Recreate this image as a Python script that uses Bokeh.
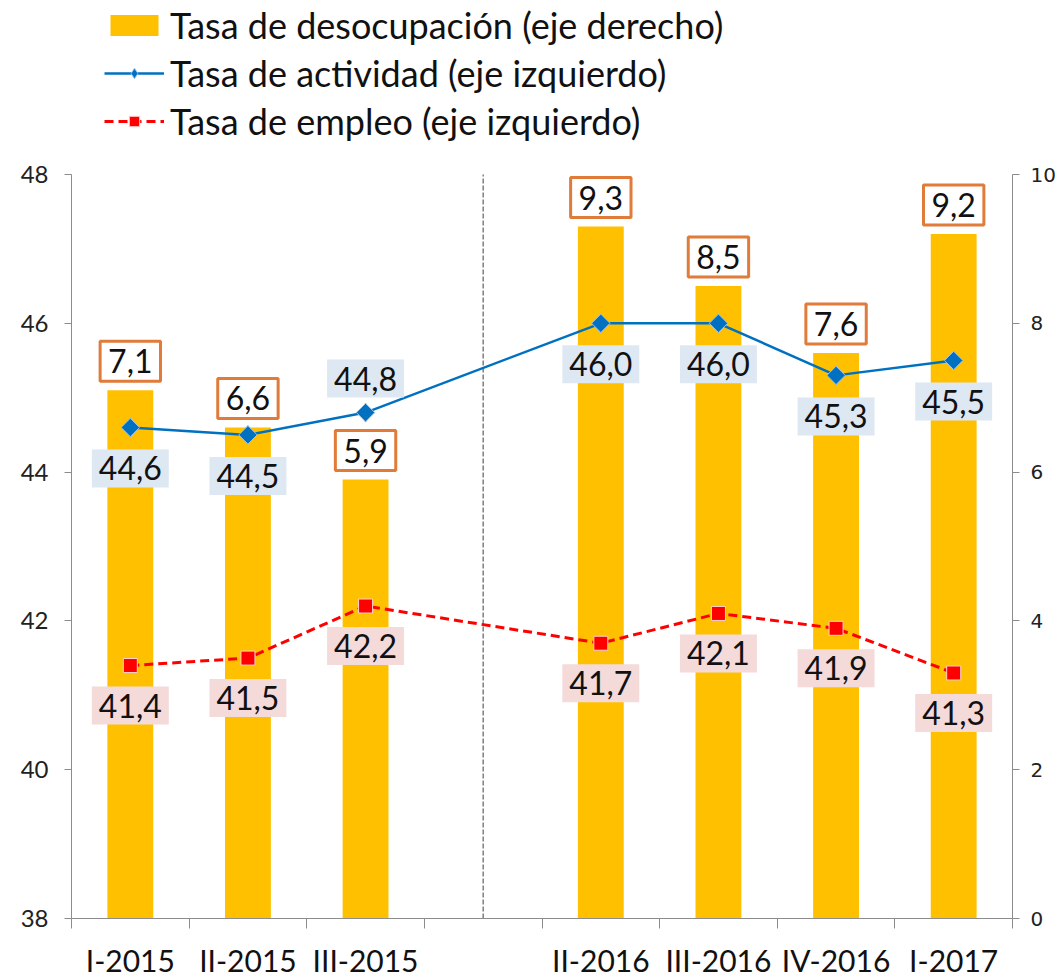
from bokeh.plotting import figure
from bokeh.models import (ColumnDataSource, Range1d, LinearAxis, FixedTicker, Label,
                          Legend, LegendItem)
from bokeh.embed import file_html
from bokeh.resources import INLINE
import numpy as np

# ---------------- data ----------------
categories = ["I-2015", "II-2015", "III-2015", "II-2016", "III-2016", "IV-2016", "I-2017"]
desocupacion = [7.1, 6.6, 5.9, 9.3, 8.5, 7.6, 9.2]          # right axis
actividad = [44.6, 44.5, 44.8, 46.0, 46.0, 45.3, 45.5]       # left axis
empleo = [41.4, 41.5, 42.2, 41.7, 42.1, 41.9, 41.3]          # left axis
actividad_label_side = ["below", "below", "above", "below", "below", "below", "below"]
left_ticks = [38, 40, 42, 44, 46, 48]
right_ticks = [0, 2, 4, 6, 8, 10]
legend_labels = ["Tasa de desocupación (eje derecho)",
                 "Tasa de actividad (eje izquierdo)",
                 "Tasa de empleo (eje izquierdo)"]

# slot positions: one empty slot between III-2015 and II-2016
gap_index = 3
n_slots = len(categories) + 1
xs = [i + 0.5 + (1 if i >= gap_index else 0) for i in range(len(categories))]

def fmt(v):
    return f"{v:.1f}".replace(".", ",")

FONT = "Lato"
BAR = "#FFC000"
BLUE = "#0070C0"
RED = "#FF0000"
AXIS = "#8C8C8C"

W, H = 1058, 980
B_LEFT, B_RIGHT, B_BOTTOM = 71, 38, 62
AXIS_TOP_PX = 174            # where the top tick sits; room above it holds the legend
frame_h = H - B_BOTTOM
px_per_unit = (frame_h - AXIS_TOP_PX) / (left_ticks[-1] - left_ticks[0])
extra = AXIS_TOP_PX / px_per_unit

p = figure(width=W, height=H, output_backend="svg", toolbar_location=None,
           x_range=Range1d(0, n_slots),
           y_range=Range1d(left_ticks[0], left_ticks[-1] + extra),
           min_border_left=B_LEFT, min_border_right=B_RIGHT, min_border_top=0,
           min_border_bottom=B_BOTTOM)
p.extra_y_ranges = {"right": Range1d(right_ticks[0], right_ticks[-1] + extra)}
p.outline_line_color = None
p.xgrid.visible = False
p.ygrid.visible = False
p.background_fill_color = "white"

src = ColumnDataSource(dict(x=xs, des=desocupacion, act=actividad, emp=empleo))

# bars
bars = p.vbar(x="x", top="des", bottom=0, width=0.39, source=src, y_range_name="right",
              fill_color=BAR, line_color=None)

# separator between the two periods
p.segment(x0=[gap_index + 0.5], y0=[left_ticks[0]], x1=[gap_index + 0.5], y1=[left_ticks[-1]],
          line_color="#7F7F7F", line_width=1.5, line_dash="5 2")

# lines
act_line = p.line("x", "act", source=src, line_color=BLUE, line_width=2.5)
act_key = p.scatter("x", "act", source=src, marker="diamond", size=19,
                    fill_color=BLUE, line_color="#9DC3E6", line_width=1)
act_pts = p.scatter("x", "act", source=src, marker="square", angle=np.pi / 4, size=13,
                    fill_color=BLUE, line_color="#9DC3E6", line_width=1)
emp_line = p.line("x", "emp", source=src, line_color=RED, line_width=3, line_dash="9 5")
emp_pts = p.scatter("x", "emp", source=src, marker="square", size=14,
                    fill_color=RED, line_color="#FFD0D0", line_width=1)

# data labels
common = dict(text_align="center", text_baseline="middle", text_font=FONT,
              text_font_size="32px", text_color="#111111")
for x, v in zip(xs, desocupacion):
    p.add_layout(Label(x=x, y=v, text=fmt(v), y_range_name="right", y_offset=29,
                       background_fill_color="white", border_line_color="#E07B39",
                       border_line_width=3, padding=8, **common))
for x, v, side in zip(xs, actividad, actividad_label_side):
    p.add_layout(Label(x=x, y=v, text=fmt(v), y_offset=34 if side == "above" else -41,
                       background_fill_color="#DEE8F3", padding=7, **common))
for x, v in zip(xs, empleo):
    p.add_layout(Label(x=x, y=v, text=fmt(v), y_offset=-40,
                       background_fill_color="#F5DADA", padding=7, **common))

# x axis
xa = p.xaxis[0]
xa.ticker = FixedTicker(ticks=xs, minor_ticks=list(range(n_slots + 1)))
xa.major_label_overrides = {x: c for x, c in zip(xs, categories)}
xa.major_tick_out = 0
xa.major_tick_in = 0
xa.minor_tick_out = 10
xa.minor_tick_in = 0
xa.minor_tick_line_color = AXIS
xa.axis_line_color = AXIS
xa.major_label_standoff = 13
xa.major_label_text_font = FONT
xa.major_label_text_font_size = "30px"
xa.major_label_text_color = "#111111"

# left axis
ya = p.yaxis[0]
ya.ticker = FixedTicker(ticks=left_ticks)
ya.bounds = (left_ticks[0], left_ticks[-1])
ya.major_tick_out = 7
ya.major_tick_in = 0
ya.minor_tick_line_color = None
ya.axis_line_color = AXIS
ya.major_tick_line_color = AXIS
ya.major_label_standoff = 16
ya.major_label_text_font = FONT
ya.major_label_text_font_size = "24px"
ya.major_label_text_color = "#222222"

# right axis
ra = LinearAxis(y_range_name="right", ticker=FixedTicker(ticks=right_ticks),
                bounds=(right_ticks[0], right_ticks[-1]))
ra.major_tick_out = 7
ra.major_tick_in = 0
ra.minor_tick_line_color = None
ra.axis_line_color = AXIS
ra.major_tick_line_color = AXIS
ra.major_label_standoff = 11
ra.major_label_text_font = "DejaVu Sans"
ra.major_label_text_font_size = "20px"
ra.major_label_text_color = "#222222"
p.add_layout(ra, "right")

# legend (inside the frame, above the top tick)
item_h = 43
last_row_center_px = 121
legend = Legend(items=[LegendItem(label=legend_labels[0], renderers=[bars]),
                       LegendItem(label=legend_labels[1], renderers=[act_line, act_key]),
                       LegendItem(label=legend_labels[2], renderers=[emp_line, emp_pts])],
                location=(33, frame_h - last_row_center_px - item_h / 2),
                orientation="vertical",
                glyph_width=60, glyph_height=26, label_height=26, spacing=4,
                label_standoff=6, padding=0, margin=0,
                label_text_font=FONT, label_text_font_size="36px", label_text_color="#111111",
                border_line_color=None, background_fill_alpha=0)
p.add_layout(legend, "center")

open("out.html", "w").write(file_html(p, INLINE))
